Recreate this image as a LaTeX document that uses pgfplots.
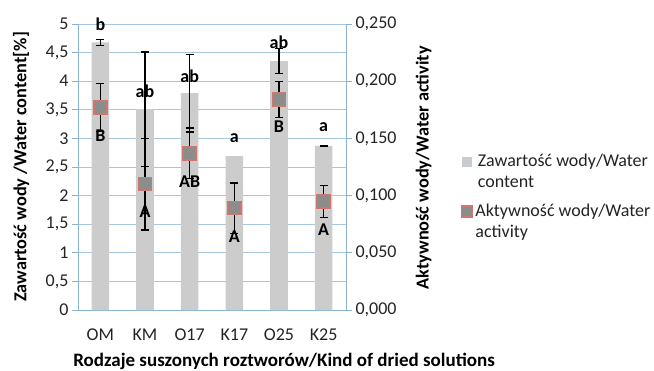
\documentclass[border=0pt]{standalone}
\usepackage{fontspec}
\setmainfont{Carlito}
\usepackage{pgfplots}
\pgfplotsset{compat=1.18}
\definecolor{barcol}{RGB}{204,204,204}
\definecolor{legbar}{RGB}{200,204,208}
\definecolor{mfill}{RGB}{140,140,140}
\definecolor{mdraw}{RGB}{205,120,110}
\definecolor{gridc}{RGB}{165,200,222}
\definecolor{axc}{RGB}{140,180,210}
\definecolor{txt}{RGB}{35,35,35}
\begin{document}
\begin{tikzpicture}
\useasboundingbox (0,0) rectangle (654pt,370pt);
\pgfplotsset{
  every axis/.append style={
    font=\fontsize{18}{21}\selectfont,
    /pgf/number format/assume math mode=true,
    /pgf/number format/use comma,
    scale only axis, width=268pt, height=286pt,
    at={(78pt,60pt)}, anchor=south west,
    xmin=-0.5, xmax=5.5, clip=false,
    tick style={color=axc, line width=0.8pt},
    axis line style={color=axc, line width=0.8pt},
    tick label style={color=txt, font=\fontsize{18}{21}\selectfont},
    label style={font=\fontsize{18.3}{21}\selectfont\bfseries, color=black},
  }
}
\begin{axis}[
  ymin=0, ymax=5, ytick={0,0.5,...,5},
  yticklabel style={/pgf/number format/fixed, /pgf/number format/precision=1},
  axis x line*=bottom, axis y line*=left,
  xtick={0,...,5}, xticklabels={OM,KM,O17,K17,O25,K25},
  major x tick style={draw=none},
  extra x ticks={-0.5,0.5,1.5,2.5,3.5,4.5,5.5}, extra x tick labels={},
  extra x tick style={tick style={color=axc, line width=0.8pt}, major tick length=6pt},
  tick align=outside, major tick length=6pt,
  ymajorgrids, grid style={color=gridc, line width=0.8pt},
  xticklabel style={yshift=-9pt},
  xlabel={Rodzaje suszonych roztworów/Kind of dried solutions},
  xlabel style={at={(axis description cs:0.769,-0.180)}, anchor=center, font=\fontsize{19}{21}\selectfont\bfseries},
  ylabel={Zawartość wody /Water content[\%]},
  ylabel style={at={(axis description cs:-0.212,0.500)}, anchor=center},
]
\addplot[ybar, bar width=17.6pt, fill=barcol, draw=none]
  table[x=x, y=y] {
x y
0 4.68
1 3.51
2 3.79
3 2.69
4 4.35
5 2.87
};
\addplot[draw=none, mark=none, forget plot,
  error bars/.cd, y dir=both, y explicit,
  error bar style={black, line width=1.3pt},
  error mark options={rotate=90, mark size=4pt, black, line width=1.3pt}]
  table[x=x, y=y, y error=e] {
x y e
0 4.68 0.05
1 3.51 1.00
2 3.79 0.68
4 4.35 0.22
5 2.87 0.01
};
\begin{scope}[font=\fontsize{18}{21}\selectfont\bfseries]
\node at (axis cs:0,5.0) {b};
\node at (axis cs:1,3.83) {ab};
\node at (axis cs:2,4.09) {ab};
\node at (axis cs:3,3.0) {a};
\node at (axis cs:4,4.68) {ab};
\node at (axis cs:5,3.19) {a};
\node at (axis cs:0,3.04) {B};
\node at (axis cs:1,1.72) {A};
\node at (axis cs:2,2.24) {AB};
\node at (axis cs:3,1.28) {A};
\node at (axis cs:4,3.2) {B};
\node at (axis cs:5,1.41) {A};
\end{scope}
\end{axis}
\begin{axis}[
  ymin=0, ymax=0.25, ytick={0,0.05,...,0.25},
  yticklabel style={/pgf/number format/fixed, /pgf/number format/fixed zerofill, /pgf/number format/precision=3},
  axis y line*=right, axis x line=none,
  tick align=outside, major tick length=6pt,
  ylabel={Aktywność wody/Water activity},
  ylabel style={at={(axis description cs:1.29,0.497)}, anchor=center},
  legend style={at={(axis description cs:1.428,0.554)}, anchor=north west, draw=none, fill=none,
    font=\fontsize{18}{21}\selectfont, text=txt, cells={align=left}, row sep=11pt, inner sep=0pt},
]
\addlegendimage{legend image code/.code={\fill[legbar] (0pt,5.5pt) rectangle (9pt,14.5pt);}}
\addlegendentry{Zawartość wody/Water\\content}
\addlegendimage{legend image code/.code={\draw[fill=mfill, draw=mdraw, line width=1.5pt] (-1pt,4.5pt) rectangle (10pt,15.5pt);}}
\addlegendentry{Aktywność wody/Water\\activity}
\addplot[only marks, mark=square*, mark size=6.5pt, mark options={fill=mfill, draw=mdraw, line width=1.5pt},
  forget plot,
  error bars/.cd, y dir=both, y explicit,
  error bar style={black, line width=1.3pt},
  error mark options={rotate=90, mark size=4pt, black, line width=1.3pt}]
  table[x=x, y=y, y error=e] {
x y e
0 0.177 0.021
1 0.110 0.040
2 0.137 0.022
3 0.089 0.022
4 0.184 0.016
5 0.095 0.014
};
\addplot[only marks, mark=square*, mark size=6.5pt, mark options={fill=mfill, draw=mdraw, line width=1.5pt}, forget plot]
  table[x=x, y=y] {
x y
0 0.177
1 0.110
2 0.137
3 0.089
4 0.184
5 0.095
};
\end{axis}
\end{tikzpicture}
\end{document}
